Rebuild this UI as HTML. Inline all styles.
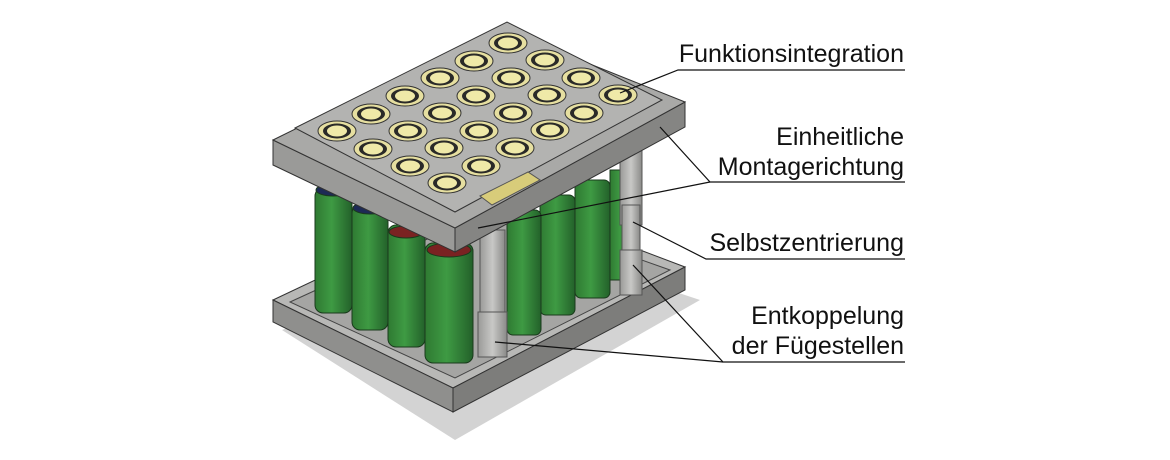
<!DOCTYPE html>
<html><head><meta charset="utf-8"><style>
html,body{margin:0;padding:0;background:#fff;width:1170px;height:460px;overflow:hidden}
svg{display:block}
text{font-family:"Liberation Sans",Arial,sans-serif;font-size:25px;fill:#111}
</style></head><body>
<svg width="1170" height="460" viewBox="0 0 1170 460">
<defs>
<linearGradient id="g" x1="0" x2="1"><stop offset="0" stop-color="#2f7a32"/><stop offset=".45" stop-color="#3e9a43"/><stop offset="1" stop-color="#23612a"/></linearGradient>
<linearGradient id="p" x1="0" x2="1"><stop offset="0" stop-color="#9a9a98"/><stop offset=".5" stop-color="#c8c8c6"/><stop offset="1" stop-color="#8a8a88"/></linearGradient>
<g id="c">
<ellipse cx="0" cy="0" rx="19" ry="10" fill="#e6dfa0" stroke="#333" stroke-width="1"/>
<ellipse cx="0" cy="0" rx="14" ry="7.5" fill="#2a2a28"/>
<ellipse cx="0" cy="0" rx="10" ry="5.5" fill="#efe9a8"/>
</g>
</defs>
<polygon points="282,330 455,440 700,300 520,240" fill="#d3d3d3"/>
<polygon points="273,300 495,195 685,267 453,388" fill="#b8b8b6" stroke="#333" stroke-width="1"/>
<polygon points="273,300 453,388 453,412 273,322" fill="#8f8f8d" stroke="#333" stroke-width="1"/>
<polygon points="453,388 685,267 685,290 453,412" fill="#7d7d7b" stroke="#333" stroke-width="1"/>
<polygon points="290,302 495,208 670,270 455,378" fill="#a5a5a3" stroke="#444" stroke-width="1"/>
<g stroke="#1a3a1c" stroke-width="1">
<rect x="610" y="170" width="22" height="110" fill="url(#g)"/>
<rect x="575" y="180" width="35" height="118" rx="6" fill="url(#g)"/>
<rect x="540" y="195" width="35" height="120" rx="6" fill="url(#g)"/>
<rect x="507" y="210" width="34" height="125" rx="6" fill="url(#g)"/>
<rect x="315" y="188" width="37" height="125" rx="8" fill="url(#g)"/>
<ellipse cx="333" cy="190" rx="17" ry="6" fill="#1d2a55"/>
<rect x="352" y="205" width="36" height="125" rx="8" fill="url(#g)"/>
<ellipse cx="370" cy="208" rx="17" ry="6" fill="#1d2a55"/>
<rect x="388" y="225" width="37" height="122" rx="8" fill="url(#g)"/>
<ellipse cx="406" cy="232" rx="17" ry="6" fill="#7a2222"/>
<rect x="425" y="243" width="48" height="120" rx="8" fill="url(#g)"/>
<ellipse cx="449" cy="250" rx="22" ry="7" fill="#7a2222"/>
</g>
<g stroke="#555" stroke-width="1">
<rect x="480" y="230" width="25" height="125" fill="url(#p)"/>
<rect x="478" y="312" width="29" height="45" fill="url(#p)"/>
<rect x="620" y="140" width="22" height="85" fill="url(#p)"/>
<rect x="622" y="205" width="18" height="50" fill="url(#p)"/>
<rect x="620" y="250" width="22" height="45" fill="url(#p)"/>
</g>
<polygon points="273,140 455,228 455,252 273,165" fill="#9a9a98" stroke="#333" stroke-width="1"/>
<polygon points="455,228 685,102 685,127 455,252" fill="#858583" stroke="#333" stroke-width="1"/>
<polygon points="273,140 500,28 685,102 455,228" fill="#a9a9a7" stroke="#333" stroke-width="1"/>
<polygon points="295,128 507,22 662,100 455,212" fill="#b3b3b1" stroke="#333" stroke-width="1"/>
<polygon points="480,196 528,172 540,180 492,205" fill="#d8cc7a" stroke="#555" stroke-width="1"/>
<use href="#c" x="508" y="43"/><use href="#c" x="474" y="61"/><use href="#c" x="440" y="78"/><use href="#c" x="405" y="96"/><use href="#c" x="371" y="114"/><use href="#c" x="337" y="131"/>
<use href="#c" x="545" y="60"/><use href="#c" x="511" y="78"/><use href="#c" x="476" y="96"/><use href="#c" x="442" y="113"/><use href="#c" x="408" y="131"/><use href="#c" x="373" y="149"/>
<use href="#c" x="581" y="78"/><use href="#c" x="547" y="95"/><use href="#c" x="513" y="113"/><use href="#c" x="479" y="131"/><use href="#c" x="444" y="148"/><use href="#c" x="410" y="166"/>
<use href="#c" x="618" y="95"/><use href="#c" x="584" y="113"/><use href="#c" x="550" y="130"/><use href="#c" x="515" y="148"/><use href="#c" x="481" y="166"/><use href="#c" x="447" y="183"/>
<g stroke="#111" stroke-width="1.2" fill="none">
<polyline points="905,70 678,70 620,93"/>
<polyline points="905,182 710,182 660,127"/>
<line x1="710" y1="182" x2="478" y2="228"/>
<polyline points="905,259 706,259 633,222"/>
<polyline points="905,362 723,362 633,265"/>
<line x1="723" y1="362" x2="495" y2="342"/>
</g>
<g text-anchor="end">
<text x="904" y="62">Funktionsintegration</text>
<text x="904" y="145">Einheitliche</text>
<text x="904" y="175">Montagerichtung</text>
<text x="904" y="251">Selbstzentrierung</text>
<text x="904" y="324">Entkoppelung</text>
<text x="904" y="354">der Fügestellen</text>
</g>
</svg>
</body></html>
